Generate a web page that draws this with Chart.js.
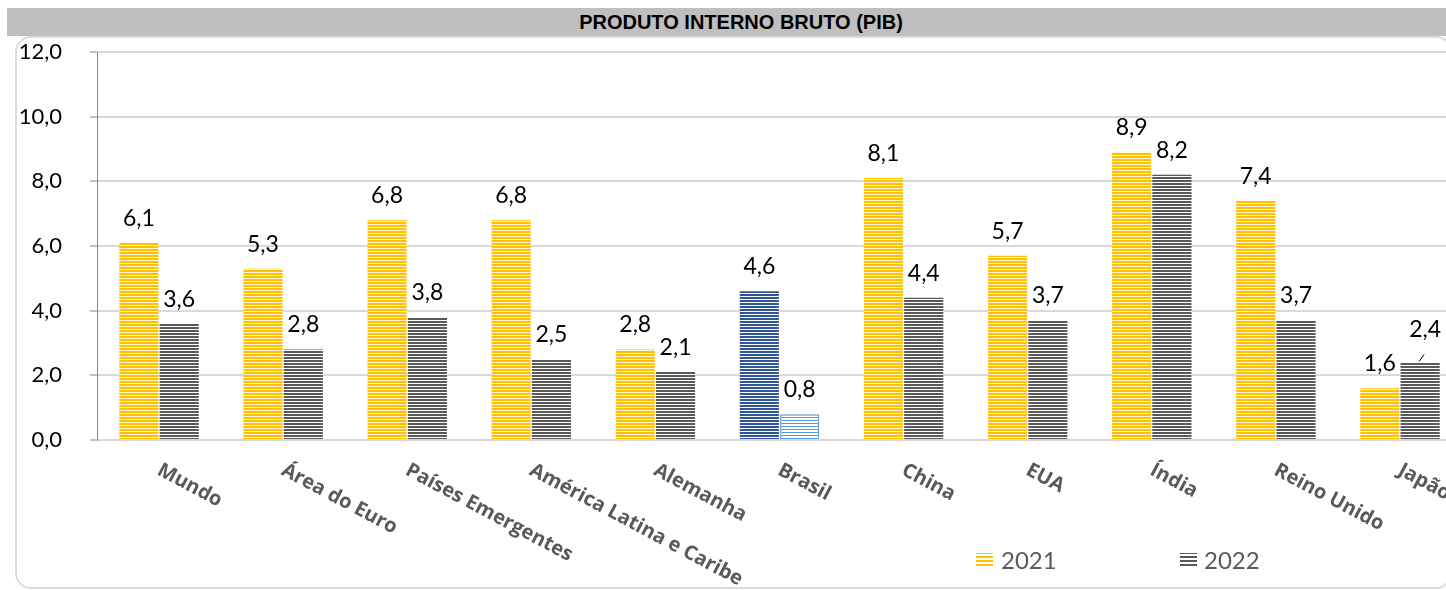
<!DOCTYPE html>
<html lang="pt-BR">
<head>
<meta charset="utf-8">
<title>Produto Interno Bruto (PIB)</title>
<script src="https://cdn.jsdelivr.net/npm/chart.js@4.4.1/dist/chart.umd.min.js"></script>
<style>
  html, body { margin: 0; padding: 0; background: #fff; overflow: hidden; width: 1446px; height: 590px; }
  #banner {
    position: absolute; left: 7px; top: 8px; width: 1460px; height: 28px;
    background: #bfbfbf; box-sizing: border-box; padding-left: 8px;
    text-align: center; line-height: 29px;
    font-family: "Liberation Sans Narrow", "Arial Narrow", "Liberation Sans", sans-serif;
    font-weight: bold; font-size: 20px; color: #000;
  }
  #frame {
    position: absolute; left: 15px; top: 36px; width: 1437px; height: 553px;
    box-sizing: border-box; border: 2px solid #dcdcdc; border-radius: 16px;
  }
  #wrap { position: absolute; left: 0; top: 0; width: 1462px; height: 590px; }
</style>
</head>
<body>
<div id="frame"></div>
<div id="banner">PRODUTO INTERNO BRUTO (PIB)</div>
<div id="wrap"><canvas id="pib" width="1462" height="590"></canvas></div>
<script>
// Crescimento do PIB (%) por economia
const categorias = ['Mundo', 'Área do Euro', 'Países Emergentes', 'América Latina e Caribe', 'Alemanha',
                    'Brasil', 'China', 'EUA', 'Índia', 'Reino Unido', 'Japão'];
const anos = ['2021', '2022'];
const pib2021 = [6.1, 5.3, 6.8, 6.8, 2.8, 4.6, 8.1, 5.7, 8.9, 7.4, 1.6];
const pib2022 = [3.6, 2.8, 3.8, 2.5, 2.1, 0.8, 4.4, 3.7, 8.2, 3.7, 2.4];
const eixoY = [0, 2, 4, 6, 8, 10, 12];
const destaque = 'Brasil';

// horizontal-stripe fill
function listras(cor, fundo, periodo, espessura) {
  const c = document.createElement('canvas');
  c.width = 4; c.height = periodo;
  const g = c.getContext('2d');
  g.fillStyle = fundo; g.fillRect(0, 0, 4, periodo);
  g.fillStyle = cor; g.fillRect(0, 0, 4, espessura);
  return g.createPattern(c, 'repeat');
}
const amarelo = listras('#ffc000', '#fff5d6', 3, 2);
const cinza = listras('#595959', '#ffffff', 3, 2);
const azulEscuro = listras('#2f5597', '#ffffff', 3, 2);
const azulClaro = listras('#5b9bd5', '#ffffff', 3, 1);

const fmt = v => v.toFixed(1).replace('.', ',');

const rotulosValor = {
  id: 'rotulosValor',
  afterDatasetsDraw(chart) {
    const ctx = chart.ctx;
    ctx.save();
    ctx.font = '23px Lato, "Open Sans", sans-serif';
    ctx.fillStyle = '#000';
    ctx.textAlign = 'center';
    ctx.textBaseline = 'alphabetic';
    chart.data.datasets.forEach((ds, d) => {
      chart.getDatasetMeta(d).data.forEach((el, i) => {
        let x = el.x, y = el.y - 17;
        // last 2022 label sits a little higher, with a short leader line
        if (d === 1 && i === categorias.length - 1) {
          x += 5; y = el.y - 25;
          ctx.save();
          ctx.strokeStyle = '#000'; ctx.lineWidth = 1;
          ctx.beginPath(); ctx.moveTo(el.x - 1, el.y - 1); ctx.lineTo(el.x + 4, el.y - 8); ctx.stroke();
          ctx.restore();
        }
        ctx.fillText(fmt(ds.data[i]), x, y);
      });
    });
    ctx.restore();
  }
};

const rotulosEixoX = {
  id: 'rotulosEixoX',
  afterDraw(chart) {
    const ctx = chart.ctx, sx = chart.scales.x;
    ctx.save();
    ctx.font = 'bold 20px "Open Sans", sans-serif';
    ctx.fillStyle = '#595959';
    ctx.textAlign = 'left';
    ctx.textBaseline = 'alphabetic';
    categorias.forEach((c, i) => {
      const x = sx.getPixelForValue(i);
      ctx.save();
      ctx.translate(x - 3, chart.chartArea.bottom + 34);
      ctx.rotate(28 * Math.PI / 180);
      ctx.fillText(c, 0, 0);
      ctx.restore();
    });
    ctx.restore();
  }
};

const legenda = {
  id: 'legenda',
  afterDraw(chart) {
    const ctx = chart.ctx;
    const itens = [
      { box: 976, texto: 1001, fill: listras('#ffc000', '#ffffff', 4, 2) },
      { box: 1180, texto: 1204, fill: listras('#595959', '#ffffff', 4, 2) }
    ];
    ctx.save();
    ctx.font = '24px Lato, "Open Sans", sans-serif';
    ctx.textBaseline = 'alphabetic';
    itens.forEach((it, k) => {
      ctx.fillStyle = it.fill;
      ctx.fillRect(it.box, 553, 17, 15);
      ctx.fillStyle = '#595959';
      ctx.fillText(chart.data.datasets[k].label, it.texto, 569);
    });
    ctx.restore();
  }
};

new Chart(document.getElementById('pib'), {
  type: 'bar',
  data: {
    labels: categorias,
    datasets: [
      {
        label: anos[0],
        data: pib2021,
        backgroundColor: categorias.map(c => c === destaque ? azulEscuro : amarelo),
        borderWidth: 0
      },
      {
        label: anos[1],
        data: pib2022,
        backgroundColor: categorias.map(c => c === destaque ? azulClaro : cinza),
        borderColor: categorias.map(c => c === destaque ? '#5b9bd5' : 'rgba(0,0,0,0)'),
        borderWidth: categorias.map(c => c === destaque ? 1.5 : 0)
      }
    ]
  },
  options: {
    responsive: false,
    animation: false,
    devicePixelRatio: 1,
    layout: { padding: { top: 52, bottom: 150, left: 0, right: 0 } },
    categoryPercentage: 0.65,
    barPercentage: 0.97,
    plugins: { legend: { display: false }, title: { display: false }, tooltip: { enabled: false } },
    scales: {
      x: {
        grid: { display: false, drawTicks: false },
        border: { color: '#d9d9d9', width: 2 },
        ticks: { display: false }
      },
      y: {
        min: eixoY[0],
        max: eixoY[eixoY.length - 1],
        afterBuildTicks: s => { s.ticks = eixoY.map(v => ({ value: v })); },
        afterFit: s => { s.width = 97; },
        grid: { color: '#d9d9d9', lineWidth: 2, tickColor: '#868686', tickLength: 7, tickWidth: 1 },
        border: { color: '#868686', width: 1 },
        ticks: {
          padding: 28,
          color: '#000',
          font: { family: 'Lato, "Open Sans", sans-serif', size: 22 },
          callback: v => fmt(v)
        }
      }
    }
  },
  plugins: [rotulosValor, rotulosEixoX, legenda]
});
</script>
</body>
</html>
